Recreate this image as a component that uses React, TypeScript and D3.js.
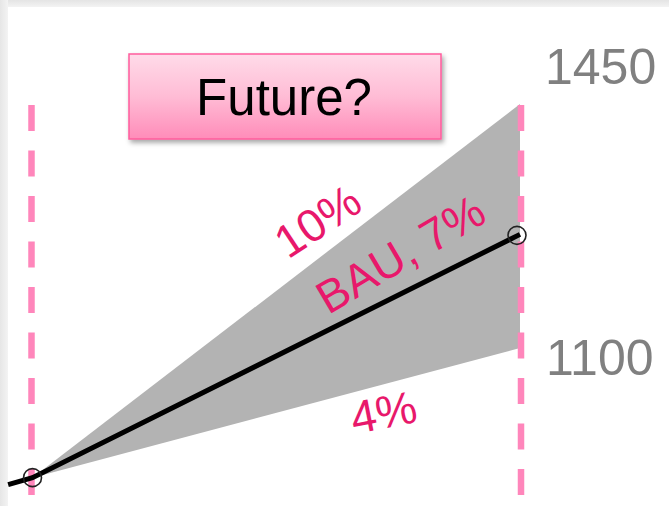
import React from "react";
import * as d3 from "d3";

// ---- data ----
const steps = [0, 5]; // start and end of projection period (years)
const startValue = 914;
const priorPoint = { t: -0.25, v: 904 };
const scenarioNames = ["10%", "BAU, 7%", "4%"];
const scenarioEnd = [1450, 1263, 1100];
const endLabels = ["1450", "1100"];
const title = "Future?";

const W = 669;
const H = 506;
const FONT = "'Liberation Sans', Arial, Helvetica, sans-serif";
const PINK = "#e8186b";
const DASH = "#ff86bb";

export default function App() {
  const x = d3.scaleLinear().domain([steps[0], steps[1]]).range([32.5, 520]);
  const y = d3.scaleLinear().domain([1100, 1450]).range([348, 104]);

  const [high, bau, low] = scenarioEnd;
  const area = d3
    .line<[number, number]>()
    .x((d) => x(d[0]))
    .y((d) => y(d[1]));
  const wedge =
    area([
      [steps[0], startValue],
      [steps[1], high],
      [steps[1], low],
    ]) + "Z";
  const bauPath = area([
    [priorPoint.t, priorPoint.v],
    [steps[0], startValue],
    [steps[1], bau],
  ]);

  const x0 = x(steps[0]);
  const x1 = x(steps[1]);
  const y0 = y(startValue);
  const angle = (v: number) =>
    (Math.atan2(y(v) - y0, x1 - x0) * 180) / Math.PI;
  const along = (v: number, frac: number) => {
    const px = x0 + (x1 - x0) * frac;
    const py = y0 + (y(v) - y0) * frac;
    return [px, py];
  };

  const [p10x, p10y] = along(high, 0.585);
  const [pBx, pBy] = along(bau, 0.755);
  const [p4x, p4y] = along(low, 0.72);

  return (
    <svg
      width={W}
      height={H}
      style={{ position: "absolute", left: 0, top: 0, display: "block" }}
    >
      <defs>
        <linearGradient id="boxg" x1="0" y1="0" x2="0" y2="1">
          <stop offset="0" stopColor="#ffdbe9" />
          <stop offset="0.5" stopColor="#ffbcd5" />
          <stop offset="1" stopColor="#ff8cb9" />
        </linearGradient>
        <linearGradient id="topband" x1="0" y1="0" x2="0" y2="1">
          <stop offset="0" stopColor="#e4e4e4" />
          <stop offset="1" stopColor="#f3f3f3" />
        </linearGradient>
        <linearGradient id="leftband" x1="0" y1="0" x2="1" y2="0">
          <stop offset="0" stopColor="#e6e6e6" />
          <stop offset="1" stopColor="#f3f3f3" />
        </linearGradient>
        <filter id="shadow" x="-10%" y="-10%" width="130%" height="140%">
          <feDropShadow dx="2" dy="3" stdDeviation="2.5" floodColor="#000" floodOpacity="0.35" />
        </filter>
      </defs>

      <rect x={0} y={0} width={W} height={H} fill="#ffffff" />
      <rect x={0} y={0} width={W} height={7} fill="url(#topband)" />
      <rect x={0} y={0} width={8} height={H} fill="url(#leftband)" />

      {/* scenario wedge */}
      <path d={wedge} fill="#b3b3b3" />

      {/* dashed verticals */}
      {[steps[0], steps[1]].map((s, i) => (
        <line
          key={i}
          x1={x(s) + (i === 0 ? -1 : 1)}
          x2={x(s) + (i === 0 ? -1 : 1)}
          y1={105}
          y2={495}
          stroke={DASH}
          strokeWidth={6.5}
          strokeDasharray="26 19.5"
        />
      ))}

      {/* BAU line */}
      <path d={bauPath ?? ""} fill="none" stroke="#000" strokeWidth={5} />
      <circle cx={x(steps[0])} cy={y(startValue)} r={9} fill="none" stroke="#222" strokeWidth={1.6} />
      <circle cx={x(steps[1]) - 3} cy={y(bau) + 1} r={9} fill="none" stroke="#222" strokeWidth={1.6} />

      {/* scenario labels */}
      <text
        transform={`translate(${p10x},${p10y - 38}) rotate(${angle(high) + 4})`}
        textAnchor="middle"
        dominantBaseline="central"
        fontFamily={FONT}
        fontSize={46}
        fill={PINK}
      >
        {scenarioNames[0]}
      </text>
      <text
        transform={`translate(${pBx},${pBy - 40}) rotate(${angle(bau) - 4})`}
        textAnchor="middle"
        dominantBaseline="central"
        fontFamily={FONT}
        fontSize={46}
        fill={PINK}
      >
        {scenarioNames[1]}
      </text>
      <text
        transform={`translate(${p4x},${p4y + 28}) rotate(${angle(low) + 4})`}
        textAnchor="middle"
        dominantBaseline="central"
        fontFamily={FONT}
        fontSize={46}
        fill={PINK}
      >
        {scenarioNames[2]}
      </text>

      {/* end labels */}
      <text x={545} y={y(high) - 20} fontFamily={FONT} fontSize={50} fill="#808080">
        {endLabels[0]}
      </text>
      <text x={546} y={y(low) + 27} fontFamily={FONT} fontSize={50} fill="#808080">
        {endLabels[1]}
      </text>

      {/* title box */}
      <rect
        x={129}
        y={54}
        width={312}
        height={85}
        fill="url(#boxg)"
        stroke="#ff5c9d"
        strokeWidth={1.5}
        filter="url(#shadow)"
      />
      <text
        x={284}
        y={115}
        textAnchor="middle"
        fontFamily={FONT}
        fontSize={51}
        fill="#000"
      >
        {title}
      </text>
    </svg>
  );
}
